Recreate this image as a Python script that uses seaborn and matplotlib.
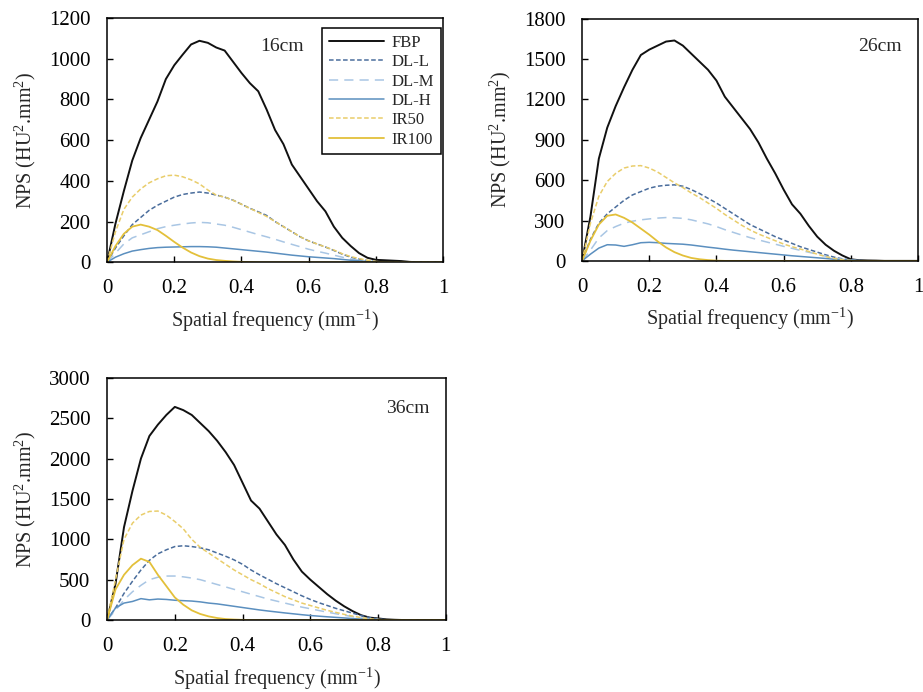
import seaborn as sns
import pandas as pd
import numpy as np
import matplotlib
matplotlib.use("Agg")
import matplotlib.pyplot as plt

# spatial frequency grid (mm^-1)
freq = [0, 0.025, 0.05, 0.075, 0.1, 0.125, 0.15, 0.175, 0.2, 0.225,
        0.25, 0.275, 0.3, 0.325, 0.35, 0.375, 0.4, 0.425, 0.45, 0.475,
        0.5, 0.525, 0.55, 0.575, 0.6, 0.625, 0.65, 0.675, 0.7, 0.725,
        0.75, 0.775, 0.8, 0.825, 0.85, 0.875, 0.9, 0.925, 0.95, 0.975, 1.0]

methods = ["FBP", "DL-L", "DL-M", "DL-H", "IR50", "IR100"]
panel_labels = ["16cm", "26cm", "36cm"]


def pad(vals):
    # trailing part of the curve sits at zero
    return vals + [0] * (len(freq) - len(vals))


# 16cm phantom
fbp_16 = pad([0, 190, 350, 500, 610, 700, 790, 900, 968, 1020, 1070, 1088, 1078, 1055, 1040, 985, 930, 880,
              840, 750, 650, 580, 480, 420, 360, 300, 250, 175, 120, 80, 45, 22, 12, 10, 8, 6, 2])
dll_16 = pad([0, 70, 130, 185, 220, 255, 280, 300, 320, 333, 340, 345, 340, 330, 320, 305, 285, 265, 248,
              230, 200, 175, 150, 125, 105, 90, 75, 58, 40, 25, 15, 8, 3])
dlm_16 = pad([0, 45, 90, 120, 135, 150, 165, 175, 182, 188, 193, 196, 194, 188, 182, 172, 160, 148, 136,
              125, 113, 100, 88, 76, 64, 54, 45, 35, 25, 16, 10, 5, 2])
dlh_16 = pad([0, 25, 42, 55, 62, 68, 72, 74, 75, 76, 77, 77, 76, 74, 70, 66, 62, 58, 54, 50, 45, 40, 35,
              31, 27, 24, 21, 18, 14, 10, 7, 4, 2])
ir50_16 = pad([0, 150, 260, 320, 360, 390, 410, 425, 428, 420, 405, 385, 355, 330, 320, 305, 285, 265, 245,
               225, 200, 175, 150, 125, 105, 90, 75, 60, 42, 28, 18, 10, 4])
ir100_16 = pad([0, 80, 140, 175, 185, 175, 158, 130, 100, 72, 48, 30, 18, 11, 7, 4, 2, 1])

# 26cm phantom
fbp_26 = pad([0, 330, 760, 990, 1150, 1290, 1420, 1530, 1570, 1600, 1630, 1638, 1600, 1540, 1480, 1420,
              1340, 1220, 1140, 1060, 980, 880, 760, 650, 530, 420, 350, 260, 180, 120, 75, 40, 12, 5, 3, 2])
dll_26 = pad([0, 160, 280, 350, 400, 450, 490, 515, 540, 555, 562, 565, 555, 530, 500, 465, 430, 390, 350,
              310, 270, 240, 210, 180, 155, 130, 105, 85, 65, 45, 28, 15, 6, 2])
dlm_26 = pad([0, 80, 170, 225, 255, 280, 295, 305, 312, 318, 322, 320, 316, 305, 290, 275, 255, 232, 212,
              192, 173, 156, 140, 124, 108, 93, 78, 64, 50, 35, 22, 12, 5, 2])
dlh_26 = pad([0, 50, 95, 120, 118, 108, 120, 135, 138, 135, 130, 127, 124, 118, 110, 102, 95, 87, 80, 74,
              68, 62, 56, 50, 44, 38, 33, 28, 23, 18, 12, 8, 4, 2])
ir50_26 = pad([0, 280, 480, 590, 650, 690, 705, 708, 690, 660, 620, 580, 545, 505, 470, 430, 390, 345, 305,
               265, 230, 200, 175, 150, 125, 105, 88, 70, 50, 32, 18, 8, 3])
ir100_26 = pad([0, 150, 270, 335, 345, 320, 285, 240, 195, 145, 100, 65, 40, 22, 12, 6, 2])

# 36cm phantom
fbp_36 = pad([0, 450, 1150, 1600, 2000, 2280, 2420, 2540, 2640, 2600, 2540, 2440, 2340, 2220, 2080, 1920,
              1700, 1480, 1380, 1220, 1060, 930, 750, 600, 500, 410, 320, 240, 170, 110, 60, 30, 20, 8, 3])
dll_36 = pad([0, 150, 330, 480, 620, 740, 820, 870, 910, 920, 910, 895, 870, 830, 790, 745, 690, 620, 560,
              505, 450, 400, 350, 300, 255, 215, 180, 145, 115, 85, 55, 30, 12, 4])
dlm_36 = pad([0, 120, 250, 350, 430, 500, 530, 545, 545, 535, 520, 500, 470, 440, 410, 380, 350, 320, 290,
              260, 235, 210, 185, 160, 140, 118, 98, 78, 60, 42, 26, 14, 6, 2])
dlh_36 = pad([0, 150, 210, 230, 265, 250, 260, 255, 245, 240, 235, 225, 210, 200, 185, 170, 155, 140, 125,
              112, 100, 88, 77, 66, 56, 48, 40, 33, 26, 18, 12, 7, 3, 1])
ir50_36 = pad([0, 500, 1000, 1200, 1300, 1345, 1350, 1300, 1220, 1130, 1000, 900, 830, 760, 690, 620, 560,
               500, 450, 390, 340, 290, 250, 210, 180, 150, 120, 95, 70, 48, 30, 15, 6, 2])
ir100_36 = pad([0, 380, 560, 680, 760, 720, 560, 420, 280, 190, 120, 75, 45, 25, 12, 6, 2])

panels = [
    [fbp_16, dll_16, dlm_16, dlh_16, ir50_16, ir100_16],
    [fbp_26, dll_26, dlm_26, dlh_26, ir50_26, ir100_26],
    [fbp_36, dll_36, dlm_36, dlh_36, ir50_36, ir100_36],
]
y_limits = [(0, 1200, 200), (0, 1800, 300), (0, 3000, 500)]

colors = {
    "FBP": "#111111",
    "DL-L": "#4a6d9c",
    "DL-M": "#a9c6e4",
    "DL-H": "#5b8fbf",
    "IR50": "#e9cd6a",
    "IR100": "#e3c03a",
}
dashes = {
    "FBP": (None, None),
    "DL-L": (3, 1.6),
    "DL-M": (6, 4),
    "DL-H": (None, None),
    "IR50": (3, 1.6),
    "IR100": (None, None),
}
widths = {"FBP": 1.4, "DL-L": 1.1, "DL-M": 1.1, "DL-H": 1.1, "IR50": 1.1, "IR100": 1.3}

sns.set_theme(style="white")
plt.rcParams["font.family"] = ["Liberation Serif", "DejaVu Serif"]
plt.rcParams["mathtext.fontset"] = "custom"
plt.rcParams["mathtext.rm"] = "Liberation Serif"
plt.rcParams["mathtext.it"] = "Liberation Serif:italic"

fig = plt.figure(figsize=(9.23, 6.92), dpi=100)
axes_pos = [
    [0.116, 0.621, 0.364, 0.353],
    [0.6306, 0.623, 0.364, 0.350],
    [0.116, 0.104, 0.367, 0.350],
]
text_pos = [(0.52, 0.885), (0.887, 0.884), (0.888, 0.872)]

for i, series in enumerate(panels):
    ax = fig.add_axes(axes_pos[i])
    for name, vals in zip(methods, series):
        df = pd.DataFrame({"freq": freq, "nps": vals})
        line_style = "-" if dashes[name][0] is None else (0, dashes[name])
        sns.lineplot(data=df, x="freq", y="nps", ax=ax, color=colors[name],
                     linewidth=widths[name], linestyle=line_style, label=name,
                     legend=False)
    lo, hi, step = y_limits[i]
    ax.set_xlim(0, 1)
    ax.set_ylim(lo, hi)
    ax.set_xticks([0, 0.2, 0.4, 0.6, 0.8, 1])
    ax.set_xticklabels(["0", "0.2", "0.4", "0.6", "0.8", "1"])
    ax.set_yticks(np.arange(lo, hi + 1, step))
    ax.tick_params(direction="in", length=4, width=1, colors="black",
                   labelsize=15, pad=12, bottom=True, left=True)
    for sp in ax.spines.values():
        sp.set_color("black")
        sp.set_linewidth(1.1)
    ax.set_xlabel("Spatial frequency (mm$^{-1}$)", fontsize=14.5, labelpad=7)
    ax.set_ylabel("NPS (HU$^2$.mm$^2$)", fontsize=14.5, labelpad=8)
    ax.text(text_pos[i][0], text_pos[i][1], panel_labels[i], transform=ax.transAxes,
            ha="center", va="center", fontsize=14)
    if i == 0:
        leg = ax.legend(loc="upper right", bbox_to_anchor=(0.994, 0.958),
                        fontsize=12, handlelength=3.3, handletextpad=0.5,
                        labelspacing=0.2, borderpad=0.4, fancybox=False,
                        framealpha=1, borderaxespad=0)
        leg.get_frame().set_edgecolor("black")
        leg.get_frame().set_linewidth(1.1)

fig.savefig("out.png", dpi=100)
